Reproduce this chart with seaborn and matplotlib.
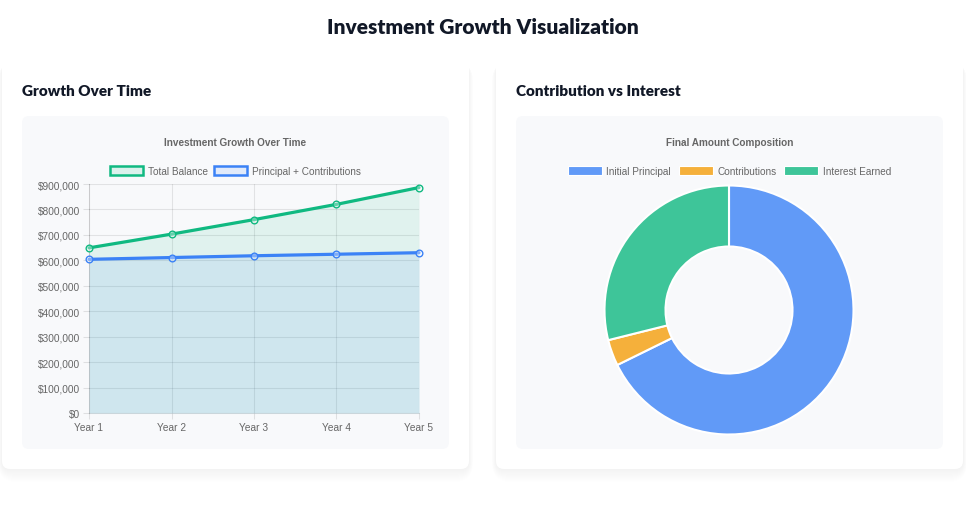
import matplotlib
matplotlib.use("Agg")
import matplotlib.pyplot as plt
import seaborn as sns
import pandas as pd
import matplotlib.ticker as mticker
from matplotlib.patches import FancyBboxPatch, Patch

# ---------------- data ----------------
years = ["Year 1", "Year 2", "Year 3", "Year 4", "Year 5"]
total_balance = [649000, 703000, 760000, 820000, 886000]
principal_contrib = [604000, 611000, 618000, 624000, 630000]
y_ticks = [0, 100000, 200000, 300000, 400000, 500000, 600000, 700000, 800000, 900000]

comp_labels = ["Initial Principal", "Contributions", "Interest Earned"]
comp_values = [600000, 30000, 256000]

page_title = "Investment Growth Visualization"
card_titles = ["Growth Over Time", "Contribution vs Interest"]
chart_titles = ["Investment Growth Over Time", "Final Amount Composition"]
series_names = ["Total Balance", "Principal + Contributions"]

# ---------------- style ----------------
sns.set_theme(style="white")
plt.rcParams["font.family"] = ["Liberation Sans", "DejaVu Sans"]
plt.rcParams["grid.alpha"] = 0.1

W, H = 966, 506
fig = plt.figure(figsize=(W / 100, H / 100), dpi=100)
fig.patch.set_facecolor("white")

def rect(x0, y0, x1, y1):
    return [x0 / W, 1 - y1 / H, (x1 - x0) / W, (y1 - y0) / H]

GREEN = "#10b981"
BLUE = "#3b82f6"
TXT = "#666666"
GRID = (0, 0, 0, 0.1)
PANEL = "#f8f9fb"

bg = fig.add_axes([0, 0, 1, 1])
bg.set_xlim(0, W)
bg.set_ylim(H, 0)
bg.axis("off")

def rounded(ax, x0, y0, x1, y1, r, fc, ec="none", alpha=1, z=1):
    p = FancyBboxPatch((x0 + r, y0 + r), (x1 - x0) - 2 * r, (y1 - y0) - 2 * r,
                       boxstyle=f"round,pad={r}", fc=fc, ec=ec, alpha=alpha,
                       zorder=z, lw=0)
    ax.add_patch(p)

# cards with soft shadows (mostly below)
for (cx0, cx1) in [(2, 469), (496, 963)]:
    for i in range(12, 0, -1):
        rounded(bg, cx0 - i * 0.35, 58 + 8 - i * 0.3, cx1 + i * 0.35, 470 + i * 1.1,
                8 + i, "#000000", alpha=0.0045, z=1)
    rounded(bg, cx0, 58, cx1, 470, 8, "white", z=2)

rounded(bg, 22, 117, 449, 450, 7, PANEL, z=3)
rounded(bg, 516, 117, 943, 450, 7, PANEL, z=3)

TITLE_FONT = ["Lato", "DejaVu Sans"]
bg.text(W / 2 - 0.5, 27.5, page_title, ha="center", va="center", fontsize=15.0,
        fontweight="heavy", color="#111827", family=TITLE_FONT, zorder=5)
bg.text(22, 91, card_titles[0], ha="left", va="center", fontsize=11.0,
        fontweight="heavy", color="#111827", family=TITLE_FONT, zorder=5)
bg.text(516, 91, card_titles[1], ha="left", va="center", fontsize=11.0,
        fontweight="heavy", color="#111827", family=TITLE_FONT, zorder=5)
bg.text(235.5, 143, chart_titles[0], ha="center", va="center", fontsize=7.2,
        fontweight="bold", color=TXT, zorder=5)
bg.text(729.5, 143, chart_titles[1], ha="center", va="center", fontsize=7.2,
        fontweight="bold", color=TXT, zorder=5)

# ---------------- line chart ----------------
ax = fig.add_axes(rect(89, 185, 419, 414))
ax.set_facecolor("none")
xpos = list(range(len(years)))
df = pd.DataFrame({"x": xpos * 2,
                   "value": total_balance + principal_contrib,
                   "series": [series_names[0]] * len(years) + [series_names[1]] * len(years)})

ax.fill_between(xpos, total_balance, 0, color=GREEN, alpha=0.1, lw=0, zorder=1)
ax.fill_between(xpos, principal_contrib, 0, color=BLUE, alpha=0.1, lw=0, zorder=1)
sns.lineplot(data=df, x="x", y="value", hue="series",
             palette={series_names[0]: GREEN, series_names[1]: BLUE},
             lw=2.3, marker="o", markersize=4.8, markeredgewidth=1.0,
             ax=ax, legend=False, zorder=3)
for line, c in zip(ax.lines, [GREEN, BLUE]):
    line.set_markerfacecolor((1, 1, 1, 0.35))
    line.set_markeredgecolor(c)
    line.set_clip_on(False)

ax.set_xlim(0, len(years) - 1)
ax.set_ylim(0, 900000)
ax.set_xticks(xpos)
ax.set_xticklabels(years)
ax.set_yticks(y_ticks)
ax.yaxis.set_major_formatter(mticker.FuncFormatter(lambda v, p: f"${int(v):,}"))
ax.grid(True, color="black", alpha=0.09, lw=0.8)
ax.set_axisbelow(True)
for s in ax.spines.values():
    s.set_visible(False)
for side in ["left", "bottom"]:
    ax.spines[side].set_visible(True)
    ax.spines[side].set_color(GRID)
    ax.spines[side].set_linewidth(0.8)
ax.tick_params(axis="both", length=4.3, width=0.8, color=GRID, labelsize=7.3,
               labelcolor=TXT, pad=2.2, left=True, bottom=True)
ax.set_xlabel("")
ax.set_ylabel("")

handles = [Patch(facecolor=(16/255, 185/255, 129/255, 0.12), edgecolor=GREEN, lw=1.8),
           Patch(facecolor=(59/255, 130/255, 246/255, 0.12), edgecolor=BLUE, lw=1.8)]
fig.legend(handles, series_names, loc="center", bbox_to_anchor=(235.5 / W, 1 - 172 / H),
           ncol=2, frameon=False, fontsize=7.2, labelcolor=TXT, handlelength=3.3,
           handleheight=0.9, handletextpad=0.45, columnspacing=0.65, borderpad=0)

# ---------------- donut ----------------
cx, cy, r = 729, 311, 124.5
ax2 = fig.add_axes(rect(cx - r, cy - r, cx + r, cy + r))
pie_colors = [(59/255, 130/255, 246/255, 0.8), (245/255, 158/255, 11/255, 0.8),
              (16/255, 185/255, 129/255, 0.8)]
wedges, _ = ax2.pie(comp_values, colors=pie_colors, startangle=90, counterclock=False,
                    radius=1, wedgeprops=dict(width=0.49, edgecolor="white", linewidth=1.5))
for w in wedges:
    w.set_clip_on(False)
ax2.set_xlim(-1, 1)
ax2.set_ylim(-1, 1)
ax2.set_aspect("equal")
ax2.axis("off")

h2 = [Patch(facecolor=c, edgecolor="white", lw=0.8) for c in pie_colors]
fig.legend(h2, comp_labels, loc="center", bbox_to_anchor=(729.5 / W, 1 - 172 / H),
           ncol=3, frameon=False, fontsize=7.2, labelcolor=TXT, handlelength=3.4,
           handleheight=0.9, handletextpad=0.5, columnspacing=0.75, borderpad=0)

fig.savefig("out.png", dpi=100, facecolor="white")
